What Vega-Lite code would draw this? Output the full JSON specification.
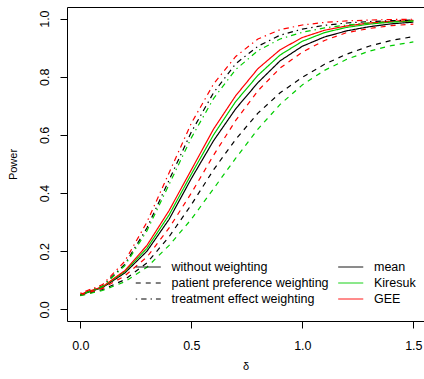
{
  "$schema": "https://vega.github.io/schema/vega-lite/v6.json",
  "autosize": {"type": "none"},
  "padding": {"left": 67, "top": 7, "right": 0, "bottom": 58},
  "width": 357,
  "height": 314,
  "background": "white",
  "config": {
    "view": {"stroke": "black", "strokeWidth": 1},
    "font": "Liberation Sans",
    "axis": {"grid": false, "domain": false, "tickColor": "black", "tickSize": 7, "tickWidth": 1, "labelColor": "black", "labelFont": "Liberation Sans", "labelFontSize": 12.5, "titleFont": "Liberation Sans", "titleFontWeight": "normal", "titleColor": "black"},
    "legend": {"labelFont": "Liberation Sans", "labelFontSize": 12.5, "labelColor": "black", "labelLimit": 400}
  },
  "data": {"values": [
    {"d":0,"p":0.05,"method":"mean","weighting":"without weighting"},
    {"d":0.1,"p":0.075,"method":"mean","weighting":"without weighting"},
    {"d":0.2,"p":0.125,"method":"mean","weighting":"without weighting"},
    {"d":0.3,"p":0.2,"method":"mean","weighting":"without weighting"},
    {"d":0.4,"p":0.31,"method":"mean","weighting":"without weighting"},
    {"d":0.5,"p":0.45,"method":"mean","weighting":"without weighting"},
    {"d":0.6,"p":0.58,"method":"mean","weighting":"without weighting"},
    {"d":0.7,"p":0.69,"method":"mean","weighting":"without weighting"},
    {"d":0.8,"p":0.78,"method":"mean","weighting":"without weighting"},
    {"d":0.9,"p":0.855,"method":"mean","weighting":"without weighting"},
    {"d":1.0,"p":0.905,"method":"mean","weighting":"without weighting"},
    {"d":1.1,"p":0.937,"method":"mean","weighting":"without weighting"},
    {"d":1.2,"p":0.958,"method":"mean","weighting":"without weighting"},
    {"d":1.3,"p":0.972,"method":"mean","weighting":"without weighting"},
    {"d":1.4,"p":0.982,"method":"mean","weighting":"without weighting"},
    {"d":1.5,"p":0.988,"method":"mean","weighting":"without weighting"},

    {"d":0,"p":0.05,"method":"Kiresuk","weighting":"without weighting"},
    {"d":0.1,"p":0.077,"method":"Kiresuk","weighting":"without weighting"},
    {"d":0.2,"p":0.13,"method":"Kiresuk","weighting":"without weighting"},
    {"d":0.3,"p":0.21,"method":"Kiresuk","weighting":"without weighting"},
    {"d":0.4,"p":0.325,"method":"Kiresuk","weighting":"without weighting"},
    {"d":0.5,"p":0.465,"method":"Kiresuk","weighting":"without weighting"},
    {"d":0.6,"p":0.6,"method":"Kiresuk","weighting":"without weighting"},
    {"d":0.7,"p":0.715,"method":"Kiresuk","weighting":"without weighting"},
    {"d":0.8,"p":0.805,"method":"Kiresuk","weighting":"without weighting"},
    {"d":0.9,"p":0.875,"method":"Kiresuk","weighting":"without weighting"},
    {"d":1.0,"p":0.922,"method":"Kiresuk","weighting":"without weighting"},
    {"d":1.1,"p":0.952,"method":"Kiresuk","weighting":"without weighting"},
    {"d":1.2,"p":0.97,"method":"Kiresuk","weighting":"without weighting"},
    {"d":1.3,"p":0.981,"method":"Kiresuk","weighting":"without weighting"},
    {"d":1.4,"p":0.988,"method":"Kiresuk","weighting":"without weighting"},
    {"d":1.5,"p":0.992,"method":"Kiresuk","weighting":"without weighting"},

    {"d":0,"p":0.052,"method":"GEE","weighting":"without weighting"},
    {"d":0.1,"p":0.078,"method":"GEE","weighting":"without weighting"},
    {"d":0.2,"p":0.133,"method":"GEE","weighting":"without weighting"},
    {"d":0.3,"p":0.22,"method":"GEE","weighting":"without weighting"},
    {"d":0.4,"p":0.34,"method":"GEE","weighting":"without weighting"},
    {"d":0.5,"p":0.48,"method":"GEE","weighting":"without weighting"},
    {"d":0.6,"p":0.62,"method":"GEE","weighting":"without weighting"},
    {"d":0.7,"p":0.735,"method":"GEE","weighting":"without weighting"},
    {"d":0.8,"p":0.828,"method":"GEE","weighting":"without weighting"},
    {"d":0.9,"p":0.893,"method":"GEE","weighting":"without weighting"},
    {"d":1.0,"p":0.935,"method":"GEE","weighting":"without weighting"},
    {"d":1.1,"p":0.96,"method":"GEE","weighting":"without weighting"},
    {"d":1.2,"p":0.975,"method":"GEE","weighting":"without weighting"},
    {"d":1.3,"p":0.985,"method":"GEE","weighting":"without weighting"},
    {"d":1.4,"p":0.991,"method":"GEE","weighting":"without weighting"},
    {"d":1.5,"p":0.994,"method":"GEE","weighting":"without weighting"},

    {"d":0,"p":0.048,"method":"mean","weighting":"patient preference weighting"},
    {"d":0.1,"p":0.068,"method":"mean","weighting":"patient preference weighting"},
    {"d":0.2,"p":0.102,"method":"mean","weighting":"patient preference weighting"},
    {"d":0.3,"p":0.16,"method":"mean","weighting":"patient preference weighting"},
    {"d":0.4,"p":0.25,"method":"mean","weighting":"patient preference weighting"},
    {"d":0.5,"p":0.36,"method":"mean","weighting":"patient preference weighting"},
    {"d":0.6,"p":0.48,"method":"mean","weighting":"patient preference weighting"},
    {"d":0.7,"p":0.585,"method":"mean","weighting":"patient preference weighting"},
    {"d":0.8,"p":0.675,"method":"mean","weighting":"patient preference weighting"},
    {"d":0.9,"p":0.745,"method":"mean","weighting":"patient preference weighting"},
    {"d":1.0,"p":0.798,"method":"mean","weighting":"patient preference weighting"},
    {"d":1.1,"p":0.843,"method":"mean","weighting":"patient preference weighting"},
    {"d":1.2,"p":0.878,"method":"mean","weighting":"patient preference weighting"},
    {"d":1.3,"p":0.905,"method":"mean","weighting":"patient preference weighting"},
    {"d":1.4,"p":0.925,"method":"mean","weighting":"patient preference weighting"},
    {"d":1.5,"p":0.938,"method":"mean","weighting":"patient preference weighting"},

    {"d":0,"p":0.047,"method":"Kiresuk","weighting":"patient preference weighting"},
    {"d":0.1,"p":0.065,"method":"Kiresuk","weighting":"patient preference weighting"},
    {"d":0.2,"p":0.095,"method":"Kiresuk","weighting":"patient preference weighting"},
    {"d":0.3,"p":0.145,"method":"Kiresuk","weighting":"patient preference weighting"},
    {"d":0.4,"p":0.22,"method":"Kiresuk","weighting":"patient preference weighting"},
    {"d":0.5,"p":0.31,"method":"Kiresuk","weighting":"patient preference weighting"},
    {"d":0.6,"p":0.415,"method":"Kiresuk","weighting":"patient preference weighting"},
    {"d":0.7,"p":0.52,"method":"Kiresuk","weighting":"patient preference weighting"},
    {"d":0.8,"p":0.62,"method":"Kiresuk","weighting":"patient preference weighting"},
    {"d":0.9,"p":0.705,"method":"Kiresuk","weighting":"patient preference weighting"},
    {"d":1.0,"p":0.772,"method":"Kiresuk","weighting":"patient preference weighting"},
    {"d":1.1,"p":0.822,"method":"Kiresuk","weighting":"patient preference weighting"},
    {"d":1.2,"p":0.86,"method":"Kiresuk","weighting":"patient preference weighting"},
    {"d":1.3,"p":0.888,"method":"Kiresuk","weighting":"patient preference weighting"},
    {"d":1.4,"p":0.907,"method":"Kiresuk","weighting":"patient preference weighting"},
    {"d":1.5,"p":0.92,"method":"Kiresuk","weighting":"patient preference weighting"},

    {"d":0,"p":0.05,"method":"GEE","weighting":"patient preference weighting"},
    {"d":0.1,"p":0.072,"method":"GEE","weighting":"patient preference weighting"},
    {"d":0.2,"p":0.115,"method":"GEE","weighting":"patient preference weighting"},
    {"d":0.3,"p":0.18,"method":"GEE","weighting":"patient preference weighting"},
    {"d":0.4,"p":0.28,"method":"GEE","weighting":"patient preference weighting"},
    {"d":0.5,"p":0.4,"method":"GEE","weighting":"patient preference weighting"},
    {"d":0.6,"p":0.53,"method":"GEE","weighting":"patient preference weighting"},
    {"d":0.7,"p":0.65,"method":"GEE","weighting":"patient preference weighting"},
    {"d":0.8,"p":0.752,"method":"GEE","weighting":"patient preference weighting"},
    {"d":0.9,"p":0.83,"method":"GEE","weighting":"patient preference weighting"},
    {"d":1.0,"p":0.885,"method":"GEE","weighting":"patient preference weighting"},
    {"d":1.1,"p":0.925,"method":"GEE","weighting":"patient preference weighting"},
    {"d":1.2,"p":0.952,"method":"GEE","weighting":"patient preference weighting"},
    {"d":1.3,"p":0.966,"method":"GEE","weighting":"patient preference weighting"},
    {"d":1.4,"p":0.976,"method":"GEE","weighting":"patient preference weighting"},
    {"d":1.5,"p":0.981,"method":"GEE","weighting":"patient preference weighting"},

    {"d":0,"p":0.05,"method":"mean","weighting":"treatment effect weighting"},
    {"d":0.1,"p":0.08,"method":"mean","weighting":"treatment effect weighting"},
    {"d":0.2,"p":0.155,"method":"mean","weighting":"treatment effect weighting"},
    {"d":0.3,"p":0.28,"method":"mean","weighting":"treatment effect weighting"},
    {"d":0.4,"p":0.445,"method":"mean","weighting":"treatment effect weighting"},
    {"d":0.5,"p":0.61,"method":"mean","weighting":"treatment effect weighting"},
    {"d":0.6,"p":0.745,"method":"mean","weighting":"treatment effect weighting"},
    {"d":0.7,"p":0.845,"method":"mean","weighting":"treatment effect weighting"},
    {"d":0.8,"p":0.905,"method":"mean","weighting":"treatment effect weighting"},
    {"d":0.9,"p":0.943,"method":"mean","weighting":"treatment effect weighting"},
    {"d":1.0,"p":0.964,"method":"mean","weighting":"treatment effect weighting"},
    {"d":1.1,"p":0.977,"method":"mean","weighting":"treatment effect weighting"},
    {"d":1.2,"p":0.985,"method":"mean","weighting":"treatment effect weighting"},
    {"d":1.3,"p":0.99,"method":"mean","weighting":"treatment effect weighting"},
    {"d":1.4,"p":0.993,"method":"mean","weighting":"treatment effect weighting"},
    {"d":1.5,"p":0.995,"method":"mean","weighting":"treatment effect weighting"},

    {"d":0,"p":0.05,"method":"Kiresuk","weighting":"treatment effect weighting"},
    {"d":0.1,"p":0.079,"method":"Kiresuk","weighting":"treatment effect weighting"},
    {"d":0.2,"p":0.15,"method":"Kiresuk","weighting":"treatment effect weighting"},
    {"d":0.3,"p":0.27,"method":"Kiresuk","weighting":"treatment effect weighting"},
    {"d":0.4,"p":0.43,"method":"Kiresuk","weighting":"treatment effect weighting"},
    {"d":0.5,"p":0.59,"method":"Kiresuk","weighting":"treatment effect weighting"},
    {"d":0.6,"p":0.725,"method":"Kiresuk","weighting":"treatment effect weighting"},
    {"d":0.7,"p":0.825,"method":"Kiresuk","weighting":"treatment effect weighting"},
    {"d":0.8,"p":0.89,"method":"Kiresuk","weighting":"treatment effect weighting"},
    {"d":0.9,"p":0.93,"method":"Kiresuk","weighting":"treatment effect weighting"},
    {"d":1.0,"p":0.953,"method":"Kiresuk","weighting":"treatment effect weighting"},
    {"d":1.1,"p":0.968,"method":"Kiresuk","weighting":"treatment effect weighting"},
    {"d":1.2,"p":0.978,"method":"Kiresuk","weighting":"treatment effect weighting"},
    {"d":1.3,"p":0.985,"method":"Kiresuk","weighting":"treatment effect weighting"},
    {"d":1.4,"p":0.989,"method":"Kiresuk","weighting":"treatment effect weighting"},
    {"d":1.5,"p":0.992,"method":"Kiresuk","weighting":"treatment effect weighting"},

    {"d":0,"p":0.055,"method":"GEE","weighting":"treatment effect weighting"},
    {"d":0.1,"p":0.085,"method":"GEE","weighting":"treatment effect weighting"},
    {"d":0.2,"p":0.165,"method":"GEE","weighting":"treatment effect weighting"},
    {"d":0.3,"p":0.3,"method":"GEE","weighting":"treatment effect weighting"},
    {"d":0.4,"p":0.47,"method":"GEE","weighting":"treatment effect weighting"},
    {"d":0.5,"p":0.64,"method":"GEE","weighting":"treatment effect weighting"},
    {"d":0.6,"p":0.775,"method":"GEE","weighting":"treatment effect weighting"},
    {"d":0.7,"p":0.87,"method":"GEE","weighting":"treatment effect weighting"},
    {"d":0.8,"p":0.93,"method":"GEE","weighting":"treatment effect weighting"},
    {"d":0.9,"p":0.962,"method":"GEE","weighting":"treatment effect weighting"},
    {"d":1.0,"p":0.978,"method":"GEE","weighting":"treatment effect weighting"},
    {"d":1.1,"p":0.987,"method":"GEE","weighting":"treatment effect weighting"},
    {"d":1.2,"p":0.992,"method":"GEE","weighting":"treatment effect weighting"},
    {"d":1.3,"p":0.995,"method":"GEE","weighting":"treatment effect weighting"},
    {"d":1.4,"p":0.997,"method":"GEE","weighting":"treatment effect weighting"},
    {"d":1.5,"p":0.998,"method":"GEE","weighting":"treatment effect weighting"}
  ]},
  "mark": {"type": "line", "strokeWidth": 1.2, "clip": true},
  "encoding": {
    "x": {"field": "d", "type": "quantitative", "scale": {"domain": [-0.06, 1.548], "nice": false, "zero": false},
      "axis": {"values": [0, 0.5, 1, 1.5], "format": ".1f", "title": "δ", "titleFontSize": 11, "labelPadding": 11, "titlePadding": 9}},
    "y": {"field": "p", "type": "quantitative", "scale": {"domain": [-0.04, 1.04], "nice": false, "zero": false},
      "axis": {"values": [0, 0.2, 0.4, 0.6, 0.8, 1.0], "format": ".1f", "title": "Power", "titleFontSize": 11, "labelAngle": -90, "labelAlign": "center", "labelBaseline": "bottom", "labelPadding": 9, "titlePadding": 20}},
    "color": {"field": "method", "type": "nominal",
      "scale": {"domain": ["mean", "Kiresuk", "GEE"], "range": ["black", "#00CD00", "#FF0000"]},
      "legend": {"orient": "none", "legendX": 276.75, "legendY": 253, "title": null, "symbolType": "M-2,0H2", "symbolSize": 156, "symbolStrokeWidth": 1, "symbolDash": [1, 0], "rowPadding": 2, "labelOffset": 16.25, "padding": 0}},
    "strokeDash": {"field": "weighting", "type": "nominal",
      "scale": {"domain": ["without weighting", "patient preference weighting", "treatment effect weighting"], "range": [[1, 0], [5, 5], [1.4, 4, 5.4, 4]]},
      "legend": {"orient": "none", "legendX": 74.25, "legendY": 253, "title": null, "symbolType": "M-2,0H2", "symbolSize": 156, "symbolStrokeWidth": 1, "symbolStrokeColor": "black", "rowPadding": 2, "labelOffset": 16.25, "padding": 0,
        "encode": {"symbols": {"update": {"strokeDash": {"signal": "datum.value == 'patient preference weighting' ? [2.5, 2] : datum.value == 'treatment effect weighting' ? [1, 2, 2.5, 2] : [1, 0]"}}}}}},
    "detail": {"field": "method"}
  }
}
